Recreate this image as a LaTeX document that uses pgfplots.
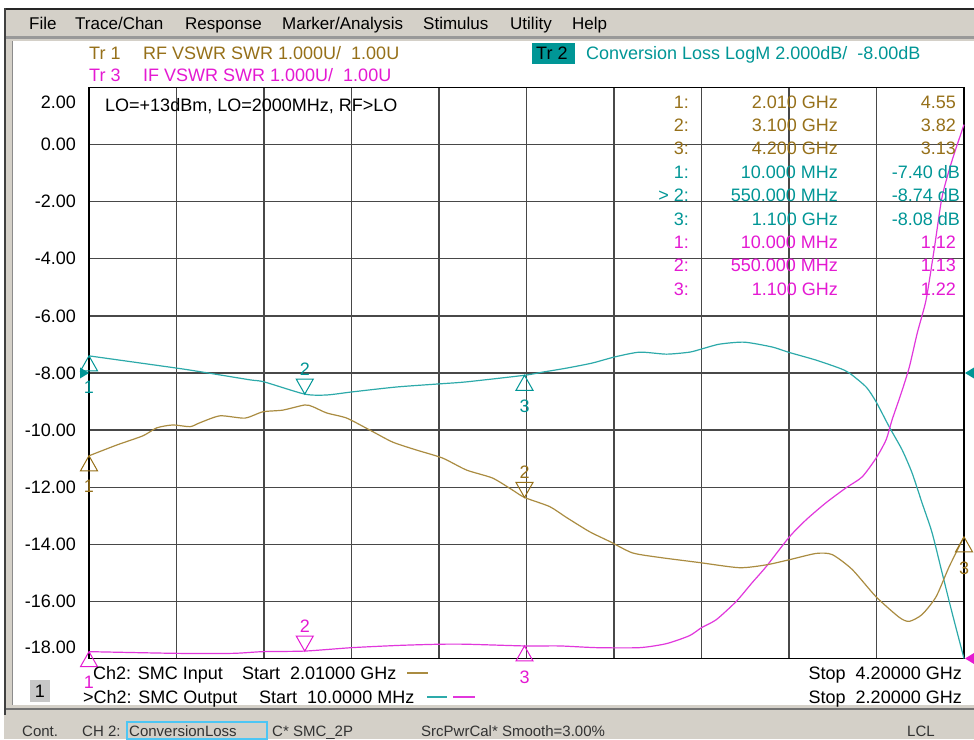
\documentclass[border=0pt]{standalone}
\usepackage{pgfplots}
\pgfplotsset{compat=1.18}
\usepackage{fontspec}
\setmainfont{Liberation Sans}

\definecolor{rfc}{RGB}{150,112,25}
\definecolor{rfl}{RGB}{170,140,65}
\definecolor{ifc}{RGB}{0,150,150}
\definecolor{ifl}{RGB}{45,170,170}
\definecolor{mgc}{RGB}{228,25,210}
\definecolor{mgl}{RGB}{225,55,220}
\definecolor{winbg}{RGB}{212,208,200}
\definecolor{gridc}{RGB}{72,72,72}
\definecolor{stat}{RGB}{50,50,50}

\newcommand\txt{\fontsize{18}{20}\selectfont}
\newcommand\menu{\fontsize{17}{19}\selectfont}
\newcommand\stxt{\fontsize{15}{17}\selectfont}

% marker triangles, apex on the trace
\pgfdeclareplotmark{mkup}{%
  \pgfpathmoveto{\pgfqpoint{0pt}{0pt}}%
  \pgfpathlineto{\pgfqpoint{-8.5pt}{-15pt}}%
  \pgfpathlineto{\pgfqpoint{8.5pt}{-15pt}}%
  \pgfpathclose\pgfusepathqstroke}
\pgfdeclareplotmark{mkdown}{%
  \pgfpathmoveto{\pgfqpoint{0pt}{0pt}}%
  \pgfpathlineto{\pgfqpoint{-8.5pt}{15pt}}%
  \pgfpathlineto{\pgfqpoint{8.5pt}{15pt}}%
  \pgfpathclose\pgfusepathqstroke}
% reference level arrows
\pgfdeclareplotmark{refR}{%
  \pgfpathmoveto{\pgfqpoint{0pt}{0pt}}%
  \pgfpathlineto{\pgfqpoint{-9pt}{5.5pt}}%
  \pgfpathlineto{\pgfqpoint{-9pt}{-5.5pt}}%
  \pgfpathclose\pgfusepathqfill}
\pgfdeclareplotmark{refL}{%
  \pgfpathmoveto{\pgfqpoint{1pt}{0pt}}%
  \pgfpathlineto{\pgfqpoint{10pt}{5.5pt}}%
  \pgfpathlineto{\pgfqpoint{10pt}{-5.5pt}}%
  \pgfpathclose\pgfusepathqfill}

\pgfplotsset{
  vna/.style={scale only axis, width=875pt, height=571pt,
    at={(89pt,80.5pt)}, anchor=south west, clip=false},
  trace/.style={mark=none, line width=1.2pt},
  mk up/.style={only marks, mark=mkup, mark options={solid, line width=1pt},
    nodes near coords, point meta=explicit symbolic,
    every node near coord/.append style={anchor=center, yshift=-31pt, font=\txt}},
  mk down/.style={only marks, mark=mkdown, mark options={solid, line width=1pt},
    nodes near coords, point meta=explicit symbolic,
    every node near coord/.append style={anchor=center, yshift=25pt, font=\txt}},
}

\begin{document}
\begin{tikzpicture}[x=1pt,y=1pt]
\path[use as bounding box] (0,0) rectangle (974,739);

% window frame
\fill[white] (0,0) rectangle (974,739);
\fill[winbg] (4,0) rectangle (974,731);
\fill[black!85] (4,729) rectangle (974,731);
\fill[black!75] (4,24) rectangle (6,731);
\fill[black!40] (6,700) rectangle (974,703);
\fill[black!55] (6,29) rectangle (974,31);
\fill[white] (13,34) rectangle (974,698);
\draw[black!45, line width=0.8pt] (12.5,34) -- (12.5,698);

% menu bar
\begin{scope}[every node/.style={anchor=base west, inner sep=0pt, font=\menu}]
\node at (29,709.5) {File};
\node at (75,709.5) {Trace/Chan};
\node at (185,709.5) {Response};
\node at (282,709.5) {Marker/Analysis};
\node at (423,709.5) {Stimulus};
\node at (510,709.5) {Utility};
\node at (572,709.5) {Help};
\end{scope}

% Tr 2: conversion loss, 2 dB/div, ref -8 dB
\begin{axis}[vna,
  xmin=10, xmax=2200, ymin=-18, ymax=2,
  xtick={10,229,448,667,886,1105,1324,1543,1762,1981,2200}, xticklabels={},
  ytick={-18,-16,...,2},
  yticklabels={\smash{\raisebox{5.5pt}{-18.00}},-16.00,-14.00,-12.00,-10.00,-8.00,-6.00,-4.00,-2.00,0.00,\smash{\raisebox{-21.5pt}{2.00}}},
  yticklabel style={anchor=east, inner sep=0pt, xshift=-13pt, font=\txt},
  major tick length=0pt,
  grid=major, major grid style={gridc, line width=1.3pt},
  axis line style={black, line width=1.4pt},
]
\addplot[ifl, trace, smooth, tension=0.4] coordinates {
  (10,-7.40) (230,-7.83) (295,-7.97) (413,-8.24) (448,-8.31) (550,-8.74)
  (605,-8.77) (670,-8.66) (780,-8.49) (888,-8.38) (955,-8.31) (1100,-8.08)
  (1145,-7.97) (1205,-7.83) (1270,-7.65) (1325,-7.44) (1388,-7.27) (1455,-7.34)
  (1513,-7.27) (1543,-7.16) (1588,-6.99) (1650,-6.92) (1720,-7.09) (1760,-7.27)
  (1830,-7.55) (1888,-7.83) (1913,-8.00) (1955,-8.49) (1980,-9.01) (2013,-9.89)
  (2045,-10.69) (2070,-11.50) (2095,-12.55) (2120,-13.59) (2145,-14.99)
  (2170,-16.39) (2200,-18.00)
};
\addplot[ifc, mk up] coordinates {(10,-7.40) [1] (1100,-8.08) [3]};
\addplot[ifc, mk down] coordinates {(550,-8.74) [2]};
\addplot[ifc, only marks, mark=refR] coordinates {(10,-8)};
\addplot[ifc, only marks, mark=refL] coordinates {(2200,-8)};
\end{axis}

% Tr 3: IF VSWR, 1 U/div, ref 1.00 at bottom
\begin{axis}[vna, hide axis, xmin=10, xmax=2200, ymin=1, ymax=11]
\addplot[mgl, trace, smooth, tension=0.4] coordinates {
  (10,1.12) (230,1.09) (370,1.09) (445,1.12) (550,1.13) (668,1.19) (788,1.23)
  (888,1.25) (955,1.25) (1100,1.22) (1188,1.22) (1280,1.19) (1388,1.19)
  (1455,1.26) (1513,1.40) (1543,1.54) (1580,1.68) (1630,2.00) (1670,2.33)
  (1705,2.61) (1763,3.13) (1805,3.43) (1855,3.73) (1905,3.99) (1945,4.18)
  (1980,4.51) (2005,4.83) (2020,5.18) (2043,5.65) (2063,6.10) (2083,6.70)
  (2105,7.28) (2125,8.15) (2145,9.08) (2170,9.72) (2200,10.35)
};
\addplot[mgc, mk up] coordinates {(10,1.12) [1] (1100,1.22) [3]};
\addplot[mgc, mk down] coordinates {(550,1.13) [2]};
\addplot[mgc, only marks, mark=refL] coordinates {(2200,1)};
\end{axis}

% Tr 1: RF VSWR, 1 U/div, ref 1.00 at bottom
\begin{axis}[vna, hide axis, xmin=2010, xmax=4200, ymin=1, ymax=11]
\addplot[rfl, trace, smooth, tension=0.4] coordinates {
  (2010,4.55) (2080,4.74) (2145,4.90) (2180,5.04) (2220,5.09) (2263,5.06)
  (2288,5.13) (2338,5.25) (2400,5.21) (2445,5.32) (2495,5.35) (2550,5.44)
  (2570,5.41) (2605,5.30) (2655,5.21) (2713,5.00) (2770,4.79) (2830,4.65)
  (2895,4.51) (2955,4.30) (3020,4.16) (3070,3.95) (3100,3.82) (3163,3.66)
  (3205,3.47) (3263,3.22) (3313,3.05) (3370,2.85) (3438,2.77) (3538,2.68)
  (3638,2.59) (3705,2.64) (3763,2.73) (3830,2.84) (3870,2.82) (3920,2.56)
  (3980,2.08) (4038,1.72) (4063,1.65) (4095,1.77) (4130,2.08) (4163,2.61)
  (4200,3.13)
};
\addplot[rfc, mk up] coordinates {(2010,4.55) [1] (4200,3.13) [3]};
\addplot[rfc, mk down] coordinates {(3100,3.82) [2]};
\end{axis}

% trace headers
\begin{scope}[every node/.style={anchor=base west, inner sep=0pt, font=\txt}]
\node[rfc] at (89,679.5) {Tr 1};
\node[rfc] at (143,679.5) {RF VSWR SWR 1.000U/\ \ 1.00U};
\node[mgc] at (89,657.5) {Tr 3};
\node[mgc] at (143,657.5) {IF VSWR SWR 1.000U/\ \ 1.00U};
\fill[ifc] (532,675) rectangle (575,696);
\node[black] at (536,679.5) {Tr 2};
\node[ifc] at (586,679.5) {Conversion Loss LogM 2.000dB/\ \ -8.00dB};
\node[black] at (105,627.5) {LO=+13dBm, LO=2000MHz, RF>LO};
\end{scope}

% marker table
\begin{scope}[every node/.style={anchor=base east, inner sep=0pt, font=\txt}]
\node[rfc] at (689,630.8) {1:}; \node[rfc] at (838,630.8) {2.010 GHz}; \node[rfc] at (956,630.8) {4.55};
\node[rfc] at (689,607.4) {2:}; \node[rfc] at (838,607.4) {3.100 GHz}; \node[rfc] at (956,607.4) {3.82};
\node[rfc] at (689,584.0) {3:}; \node[rfc] at (838,584.0) {4.200 GHz}; \node[rfc] at (956,584.0) {3.13};
\node[ifc] at (689,560.6) {1:}; \node[ifc] at (838,560.6) {10.000 MHz}; \node[ifc] at (960,560.6) {-7.40 dB};
\node[ifc] at (689,537.2) {> 2:}; \node[ifc] at (838,537.2) {550.000 MHz}; \node[ifc] at (960,537.2) {-8.74 dB};
\node[ifc] at (689,513.8) {3:}; \node[ifc] at (838,513.8) {1.100 GHz}; \node[ifc] at (960,513.8) {-8.08 dB};
\node[mgc] at (689,490.4) {1:}; \node[mgc] at (838,490.4) {10.000 MHz}; \node[mgc] at (956,490.4) {1.12};
\node[mgc] at (689,467.0) {2:}; \node[mgc] at (838,467.0) {550.000 MHz}; \node[mgc] at (956,467.0) {1.13};
\node[mgc] at (689,443.6) {3:}; \node[mgc] at (838,443.6) {1.100 GHz}; \node[mgc] at (956,443.6) {1.22};
\end{scope}

% channel legend
\begin{scope}[every node/.style={anchor=base west, inner sep=0pt, font=\txt}]
\node at (93,59.5) {Ch2: SMC Input};
\node at (242,59.5) {Start\ \ 2.01000 GHz};
\node at (83,35.5) {>Ch2: SMC Output};
\node at (259,35.5) {Start\ \ 10.0000 MHz};
\node[anchor=base east] at (962,59.5) {Stop\ \ 4.20000 GHz};
\node[anchor=base east] at (962,35.5) {Stop\ \ 2.20000 GHz};
\end{scope}
\draw[rfl, line width=1.4pt] (407,66) -- (428,66);
\draw[ifl, line width=1.4pt] (427,42) -- (447,42);
\draw[mgl, line width=1.4pt] (453,42) -- (475,42);
\fill[black!22] (30,37) rectangle (50,59);
\node[font=\txt, inner sep=0pt] at (40,48) {1};

% status bar
\begin{scope}[every node/.style={anchor=base west, inner sep=0pt, font=\stxt, text=stat}]
\node at (22,2.5) {Cont.};
\node at (82,2.5) {CH 2:};
\draw[cyan!70!white, line width=1.3pt] (127,0) rectangle (267,17);
\node at (129,2.5) {ConversionLoss};
\node at (272,2.5) {C* SMC\_2P};
\node at (421,2.5) {SrcPwrCal* Smooth=3.00\%};
\node at (907,2.5) {LCL};
\end{scope}
\end{tikzpicture}
\end{document}
